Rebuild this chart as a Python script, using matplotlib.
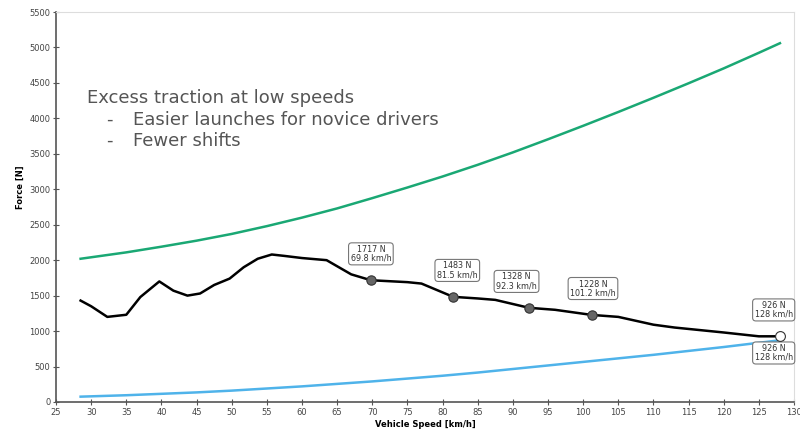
import matplotlib
matplotlib.use("Agg")
import matplotlib.pyplot as plt

# Data
speed_black = [28.5, 30, 32.3, 35, 37, 39.7, 41.7, 43.7, 45.5, 47.5, 49.7, 51.7, 53.7, 55.7,
               57.5, 60, 63.5, 67, 69.8, 75, 77, 81.5, 85, 87.5, 92.3, 96, 101.2, 105,
               110, 113, 115, 120, 125, 128]
force_black = [1430, 1350, 1200, 1230, 1480, 1700, 1570, 1500, 1530, 1650, 1740, 1900, 2020, 2080,
               2060, 2030, 2000, 1800, 1717, 1690, 1670, 1483, 1460, 1440, 1328, 1300, 1228, 1200,
               1090, 1050, 1030, 980, 926, 926]

speed_curve = [28.5, 35, 40, 45, 50, 55, 60, 65, 70, 75, 80, 85, 90, 95, 100, 105, 110, 115, 120, 125, 128]
force_green = [2020, 2110, 2190, 2275, 2370, 2480, 2600, 2730, 2875, 3025, 3180, 3345, 3520, 3705,
               3895, 4090, 4290, 4495, 4705, 4925, 5060]
force_blue = [75, 95, 115, 135, 160, 190, 220, 255, 290, 330, 370, 415, 465, 515,
              565, 615, 665, 720, 775, 835, 870]

marker_speed = [69.8, 81.5, 92.3, 101.2]
marker_force = [1717, 1483, 1328, 1228]
end_speed = [128]
end_force = [926]

x_ticks = list(range(25, 131, 5))
y_ticks = list(range(0, 5501, 500))

fig = plt.figure(figsize=(8, 4.29), dpi=100)
ax = fig.add_axes([0.07, 0.063, 0.9225, 0.909])

ax.plot(speed_curve, force_green, color="#1aa874", lw=1.8, zorder=2)
ax.plot(speed_curve, force_blue, color="#4fb3ea", lw=1.8, zorder=2)
ax.plot(speed_black, force_black, color="black", lw=1.8, zorder=3)
ax.scatter(marker_speed, marker_force, s=45, color="#666666", edgecolor="#333333", lw=0.8, zorder=4)
ax.scatter(end_speed, end_force, s=50, color="white", edgecolor="#333333", lw=0.8, zorder=4)

bbox = dict(boxstyle="round,pad=0.25,rounding_size=0.4", fc="white", ec="#777777", lw=0.8)
offsets = [(0, 19), (3, 19), (-9, 19), (1, 19)]
for sx, fy, (dx, dy) in zip(marker_speed, marker_force, offsets):
    ax.annotate(f"{fy} N\n{sx} km/h", (sx, fy), xytext=(dx, dy), textcoords="offset points",
                ha="center", va="center", fontsize=5.8, color="#333333", linespacing=1.0, bbox=bbox)
for sx, fy in zip(end_speed, end_force):
    for dy in (19, -12):
        ax.annotate(f"{fy} N\n{sx} km/h", (sx, fy), xytext=(-4.5, dy), textcoords="offset points",
                    ha="center", va="center", fontsize=5.8, color="#333333", linespacing=1.0, bbox=bbox)

ax.set_xlim(25, 130)
ax.set_ylim(0, 5500)
ax.set_xticks(x_ticks)
ax.set_yticks(y_ticks)
ax.tick_params(direction="inout", length=5, width=0.8, colors="#555555", labelsize=6,
               labelcolor="#444444", pad=1.5)
for side in ("left", "bottom"):
    ax.spines[side].set_color("#555555")
    ax.spines[side].set_linewidth(1.2)
for side in ("top", "right"):
    ax.spines[side].set_color("#dddddd")
    ax.spines[side].set_linewidth(0.8)

ax.set_xlabel("Vehicle Speed [km/h]", fontsize=6, fontweight="bold")
ax.xaxis.set_label_coords(0.5, -0.047)
ax.set_ylabel("Force [N]", fontsize=6, fontweight="bold")
ax.yaxis.set_label_coords(-0.042, 0.55)

fig.text(87 / 800, 1 - 98 / 429, "Excess traction at low speeds", fontsize=13, color="#555555",
         va="center", ha="left")
for i, t in enumerate(["Easier launches for novice drivers", "Fewer shifts"]):
    y = 1 - (120 + 21 * i) / 429
    fig.text(106 / 800, y, "-", fontsize=13, color="#555555", va="center", ha="left")
    fig.text(133 / 800, y, t, fontsize=13, color="#555555", va="center", ha="left")

fig.savefig("out.png", dpi=100)
